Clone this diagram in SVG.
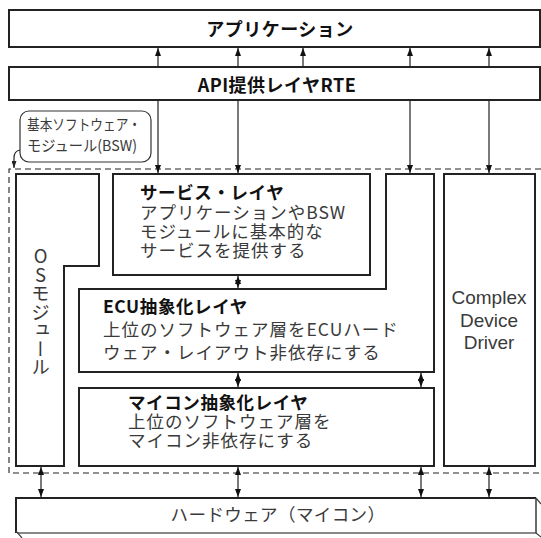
<svg xmlns="http://www.w3.org/2000/svg" width="541" height="538" viewBox="0 0 541 538">
<style>
.box{fill:#fff;stroke:#222;stroke-width:2}
.dash{fill:none;stroke:#222;stroke-width:1.1;stroke-dasharray:6 4}
.arr{stroke:#222;stroke-width:1.2;fill:none}
.h{font-family:"Noto Sans CJK JP","Noto Sans",sans-serif;font-weight:bold;fill:#111;font-size:17.5px;letter-spacing:0.6px}
.b{font-family:"Noto Sans CJK JP","Noto Sans",sans-serif;fill:#3a3a3a}
.t{font-size:17.5px;letter-spacing:1px}
.l{font-family:"Liberation Sans","Noto Sans",sans-serif;fill:#3a3a3a}
</style>
<defs>
<marker id="ah" viewBox="0 0 8 6" refX="8" refY="3" markerWidth="8" markerHeight="6" markerUnits="userSpaceOnUse" orient="auto-start-reverse">
<path d="M0,0 L8,3 L0,6 z" fill="#111"/>
</marker>
<marker id="ahs" viewBox="0 0 7 5" refX="7" refY="2.5" markerWidth="7" markerHeight="5" markerUnits="userSpaceOnUse" orient="auto">
<path d="M0,0 L7,2.5 L0,5 z" fill="#222"/>
</marker>
</defs>

<g id="bsw-area">
<path class="dash" d="M541,169 H9 V473 H541"/>
</g>

<g id="app">
<rect class="box" x="9" y="10" width="531" height="37"/>
<text class="h" x="280" y="36" text-anchor="middle" style="font-size:18px;letter-spacing:0.5px">アプリケーション</text>
</g>

<g id="rte">
<rect class="box" x="9" y="67" width="531" height="33"/>
<text class="h" x="277" y="92" text-anchor="middle" style="font-size:18px;letter-spacing:0.5px">API提供レイヤRTE</text>
</g>

<g id="bsw-label">
<rect x="20" y="111" width="131" height="51" rx="9" fill="#fff" stroke="#333" stroke-width="1.2"/>
<text class="b" x="27" y="130" font-size="15" textLength="114" lengthAdjust="spacingAndGlyphs">基本ソフトウェア・</text>
<text class="b" x="27" y="151" font-size="15" textLength="110" lengthAdjust="spacingAndGlyphs">モジュール(BSW)</text>
</g>

<g id="os">
<path class="box" d="M16,174 H99 V266 H64 V466 H16 Z"/>
<text class="b" x="40.5" y="247" font-size="18.5" style="writing-mode:vertical-rl;text-orientation:upright">OSモジュール</text>
</g>

<g id="service">
<rect class="box" x="113" y="174" width="257" height="101"/>
<text class="h" x="140" y="199">サービス・レイヤ</text>
<text class="b t" x="140" y="219">アプリケーションやBSW</text>
<text class="b t" x="140" y="238">モジュールに基本的な</text>
<text class="b t" x="140" y="257">サービスを提供する</text>
</g>

<g id="ecu">
<path class="box" d="M79,289 H386 V174 H434 V372 H79 Z"/>
<text class="h" x="103" y="313">ECU抽象化レイヤ</text>
<text class="b t" x="103" y="336">上位のソフトウェア層をECUハード</text>
<text class="b t" x="103" y="359">ウェア・レイアウト非依存にする</text>
</g>

<g id="mcal">
<rect class="box" x="79" y="388" width="355" height="78"/>
<text class="h" x="128" y="409">マイコン抽象化レイヤ</text>
<text class="b t" x="128" y="428">上位のソフトウェア層を</text>
<text class="b t" x="128" y="447">マイコン非依存にする</text>
</g>

<g id="cdd">
<rect class="box" x="444" y="174" width="91" height="292"/>
<text class="l" x="489" y="304" font-size="19" text-anchor="middle">Complex</text>
<text class="l" x="489" y="327" font-size="19" text-anchor="middle">Device</text>
<text class="l" x="489" y="349" font-size="19" text-anchor="middle">Driver</text>
</g>

<g id="hardware">
<rect x="16" y="498" width="520" height="35" fill="#fff" stroke="none"/>
<path d="M536,533 H17" stroke="#888" stroke-width="2" fill="none"/>
<path d="M16,533 V498 H536" stroke="#222" stroke-width="2" fill="none"/>
<path d="M536,498 V533" stroke="#444" stroke-width="1.6" fill="none"/>
<path d="M16,531 L22,538 M536,498 L541,504 M536,533 L541,537" stroke="#444" stroke-width="1.2" fill="none"/>
<text class="b" x="278" y="521" font-size="17.5" letter-spacing="0.4" text-anchor="middle">ハードウェア（マイコン）</text>
</g>

<g id="connectors">
<line class="arr" x1="158" y1="67" x2="158" y2="48" marker-end="url(#ah)"/>
<line class="arr" x1="238" y1="67" x2="238" y2="48" marker-end="url(#ah)"/>
<line class="arr" x1="303" y1="67" x2="303" y2="48" marker-end="url(#ah)"/>
<line class="arr" x1="410" y1="67" x2="410" y2="48" marker-end="url(#ah)"/>
<line class="arr" x1="489" y1="67" x2="489" y2="48" marker-end="url(#ah)"/>
<line class="arr" x1="158" y1="101" x2="158" y2="173" marker-end="url(#ah)"/>
<line class="arr" x1="238" y1="101" x2="238" y2="173" marker-end="url(#ah)"/>
<line class="arr" x1="410" y1="101" x2="410" y2="173" marker-end="url(#ah)"/>
<line class="arr" x1="489" y1="101" x2="489" y2="173" marker-end="url(#ah)"/>
<line class="arr" x1="238" y1="276" x2="238" y2="288" marker-start="url(#ah)" marker-end="url(#ah)"/>
<line class="arr" x1="238" y1="373" x2="238" y2="387" marker-start="url(#ah)" marker-end="url(#ah)"/>
<line class="arr" x1="421" y1="373" x2="421" y2="387" marker-start="url(#ah)" marker-end="url(#ah)"/>
<line class="arr" x1="41" y1="467" x2="41" y2="497" marker-start="url(#ah)" marker-end="url(#ah)"/>
<line class="arr" x1="238" y1="467" x2="238" y2="497" marker-start="url(#ah)" marker-end="url(#ah)"/>
<line class="arr" x1="421" y1="467" x2="421" y2="497" marker-start="url(#ah)" marker-end="url(#ah)"/>
<line class="arr" x1="489" y1="467" x2="489" y2="497" marker-start="url(#ah)" marker-end="url(#ah)"/>
<path class="arr" d="M20,150 Q14,151 14,158 L14,168" marker-end="url(#ahs)"/>
</g>
</svg>
